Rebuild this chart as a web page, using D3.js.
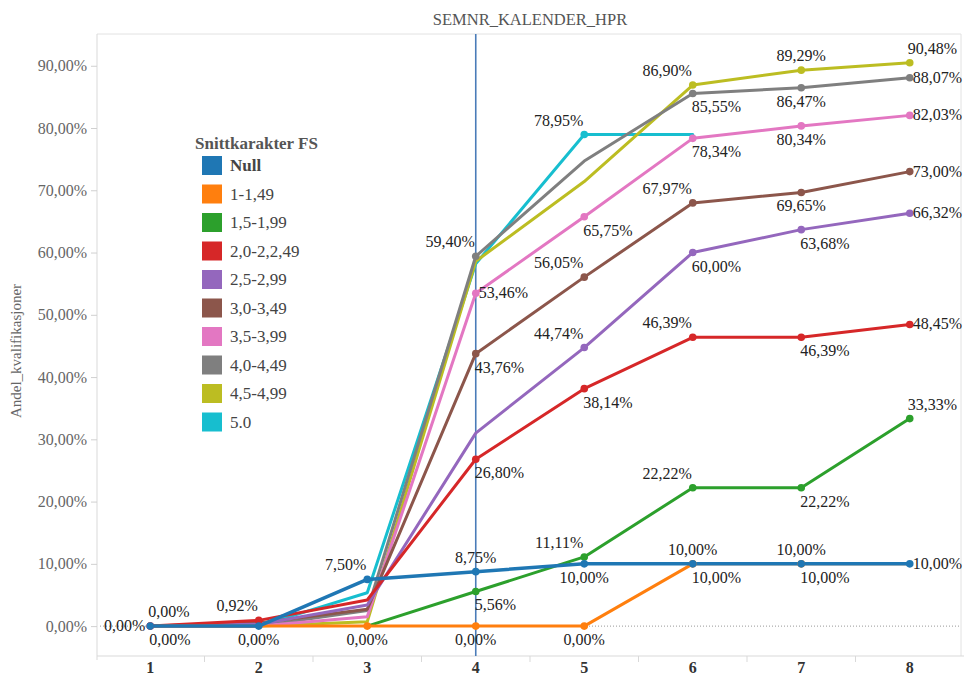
<!DOCTYPE html>
<html>
<head>
<meta charset="utf-8">
<script src="https://cdn.jsdelivr.net/npm/d3@7"></script>
<style>
  html, body { margin: 0; padding: 0; background: #fff; }
  svg { display: block; }
  svg text { font-family: "Liberation Serif", "Times New Roman", Times, "DejaVu Serif", serif !important; }
</style>
</head>
<body>
<svg id="chart" width="965" height="675"></svg>
<script>
// Semester periods on the x axis
const semesters = [1, 2, 3, 4, 5, 6, 7, 8];

// Grade groups (legend order)
const groups = ["Null", "1-1,49", "1,5-1,99", "2,0-2,2,49", "2,5-2,99",
                "3,0-3,49", "3,5-3,99", "4,0-4,49", "4,5-4,99", "5.0"];

// Share of qualifications (%) per semester, one array per grade group
const valsNull = [0, 0, 7.50, 8.75, 10.00, 10.00, 10.00, 10.00];
const vals1_0  = [0, 0, 0, 0, 0, 10.00, 10.00, 10.00];
const vals1_5  = [null, null, 0, 5.56, 11.11, 22.22, 22.22, 33.33];
const vals2_0  = [0, 0.92, 4.2, 26.80, 38.14, 46.39, 46.39, 48.45];
const vals2_5  = [0, 0.3, 3.4, 31.0, 44.74, 60.00, 63.68, 66.32];
const vals3_0  = [0, 0.5, 2.7, 43.76, 56.05, 67.97, 69.65, 73.00];
const vals3_5  = [0, 0, 1.5, 53.46, 65.75, 78.34, 80.34, 82.03];
const vals4_0  = [0, 0, 2.5, 59.40, 74.7, 85.55, 86.47, 88.07];
const vals4_5  = [0, 0, 0.7, 58.6, 71.4, 86.90, 89.29, 90.48];
const vals5_0  = [0, 0, 5.35, 58.2, 78.95, 78.95, null, null];

const seriesValues = [valsNull, vals1_0, vals1_5, vals2_0, vals2_5,
                      vals3_0, vals3_5, vals4_0, vals4_5, vals5_0];

// Y axis tick values (%)
const yTicks = [0, 10, 20, 30, 40, 50, 60, 70, 80, 90];

// Value labels: [group index, semester, placement]
const valueLabels = [
  [0, 1, "br"], [3, 1, "tr"], [6, 1, "l"],
  [3, 2, "tl"], [0, 2, "b"],
  [0, 3, "tl"], [1, 3, "b"],
  [7, 4, "tl"], [6, 4, "r"], [5, 4, "br"], [3, 4, "br"], [0, 4, "t"], [2, 4, "br"], [1, 4, "b"],
  [9, 5, "tl"], [6, 5, "br"], [5, 5, "tl"], [4, 5, "tl"], [3, 5, "br"], [2, 5, "tl"], [0, 5, "b"], [1, 5, "b"],
  [8, 6, "tl"], [7, 6, "br"], [6, 6, "br"], [5, 6, "tl"], [4, 6, "br"], [3, 6, "tl"], [2, 6, "tl"], [0, 6, "t"], [1, 6, "br"],
  [8, 7, "t"], [7, 7, "b"], [6, 7, "b"], [5, 7, "b"], [4, 7, "br"], [3, 7, "br"], [2, 7, "br"], [0, 7, "t"], [1, 7, "br"],
  [8, 8, "tr"], [7, 8, "r"], [6, 8, "r"], [5, 8, "r"], [4, 8, "r"], [3, 8, "r"], [2, 8, "tr"], [0, 8, "r"]
];

const colors = d3.schemeCategory10;
const serif = "'Liberation Serif', 'Times New Roman', Times, 'DejaVu Serif', serif";

const svg = d3.select("#chart");
const plot = { left: 97, right: 961, top: 34, bottom: 656 };

const x = d3.scaleBand().domain(semesters).range([96, 964]).paddingInner(0).paddingOuter(0);
const cx = d => x(d) + x.bandwidth() / 2;
const y = d3.scaleLinear().domain([-4.8, 95.1]).range([plot.bottom, plot.top]);

// Frame (top and right edges)
svg.append("path")
  .attr("d", `M${plot.left},${plot.top}H${plot.right}V${plot.bottom}`)
  .attr("fill", "none").attr("stroke", "#e2e2e2").attr("stroke-width", 1);

// Title
svg.append("text")
  .attr("x", 530).attr("y", 25)
  .attr("text-anchor", "middle")
  .attr("font-family", serif)
  .attr("font-size", 16.5).attr("fill", "#555")
  .text("SEMNR_KALENDER_HPR");

// Y axis
const yAxis = d3.axisLeft(y).tickValues(yTicks).tickSize(6).tickPadding(4)
  .tickFormat(d => d3.format(".2f")(d).replace(".", ",") + "%");
const gy = svg.append("g").attr("transform", `translate(${plot.left},0)`).call(yAxis);
gy.attr("font-family", serif);
gy.select(".domain").attr("stroke", "#d9d9d9").attr("d", `M0,${plot.top}V${plot.bottom + 4}`);
gy.selectAll(".tick line").attr("stroke", "#d0d0d0");
gy.selectAll(".tick text")
  .attr("font-size", 16).attr("fill", "#666");

// Y axis title
svg.append("text")
  .attr("transform", "translate(21,351) rotate(-90)")
  .attr("text-anchor", "middle")
  .attr("font-family", serif)
  .attr("font-size", 15).attr("fill", "#666")
  .text("Andel_kvalifikasjoner");

// X axis with ticks at band boundaries
const gx = svg.append("g").attr("transform", `translate(0,${plot.bottom})`);
gx.append("line").attr("x1", plot.left).attr("x2", 964)
  .attr("y1", 0).attr("y2", 0).attr("stroke", "#d9d9d9");
gx.selectAll("line.b").data(semesters.slice(1)).join("line")
  .attr("class", "b")
  .attr("x1", d => x(d)).attr("x2", d => x(d))
  .attr("y1", 0).attr("y2", 6).attr("stroke", "#d9d9d9");
gx.selectAll("text").data(semesters).join("text")
  .attr("x", d => cx(d)).attr("y", 17)
  .attr("text-anchor", "middle")
  .attr("font-family", serif)
  .attr("font-size", 16).attr("font-weight", "bold").attr("fill", "#333")
  .text(d => d);

// Zero reference line
svg.append("line")
  .attr("x1", plot.left + 3).attr("x2", plot.right)
  .attr("y1", y(0)).attr("y2", y(0))
  .attr("stroke", "#999").attr("stroke-width", 1).attr("stroke-dasharray", "1,2");

// Vertical reference line at semester 4
svg.append("line")
  .attr("x1", cx(4)).attr("x2", cx(4))
  .attr("y1", plot.top).attr("y2", plot.bottom)
  .attr("stroke", "#4a7cb8").attr("stroke-width", 1.6);

// Lines
const drawOrder = [9, 8, 7, 6, 5, 4, 3, 2, 1, 0];
const line = d3.line()
  .defined(d => d.v !== null)
  .x(d => cx(d.s))
  .y(d => y(d.v));

const gLines = svg.append("g");
drawOrder.forEach(i => {
  const pts = semesters.map((s, k) => ({ s, v: seriesValues[i][k] }));
  gLines.append("path")
    .datum(pts)
    .attr("d", line)
    .attr("fill", "none")
    .attr("stroke", colors[i])
    .attr("stroke-width", i === 0 ? 3.5 : 3)
    .attr("stroke-linejoin", "round")
    .attr("stroke-linecap", "round");
});

// Point markers at labelled values
const labelData = valueLabels.map(([g, s, pos]) => ({ g, s, pos, v: seriesValues[g][s - 1] }));
const sortedMarks = labelData.slice().sort((a, b) => drawOrder.indexOf(a.g) - drawOrder.indexOf(b.g));
svg.append("g").selectAll("circle").data(sortedMarks).join("circle")
  .attr("cx", d => cx(d.s)).attr("cy", d => y(d.v))
  .attr("r", 3.8)
  .attr("fill", d => colors[d.g]);

// Value labels
const place = {
  t:  { anchor: "middle", dx: 0,  dy: -9 },
  b:  { anchor: "middle", dx: 0,  dy: 19 },
  l:  { anchor: "end",    dx: -5, dy: 5 },
  r:  { anchor: "start",  dx: 3,  dy: 5 },
  tl: { anchor: "end",    dx: -1, dy: -9 },
  tr: { anchor: "start",  dx: -2, dy: -9 },
  br: { anchor: "start",  dx: -1, dy: 19 }
};
const fmt = v => d3.format(".2f")(v).replace(".", ",") + "%";
svg.append("g").selectAll("text").data(labelData).join("text")
  .attr("x", d => cx(d.s) + place[d.pos].dx)
  .attr("y", d => y(d.v) + place[d.pos].dy)
  .attr("text-anchor", d => place[d.pos].anchor)
  .attr("font-family", serif)
  .attr("font-size", 16).attr("fill", "#222")
  .text(d => fmt(d.v));

// Legend
const legend = svg.append("g").attr("transform", "translate(195,0)").attr("font-family", serif);
legend.append("text")
  .attr("x", 0).attr("y", 149)
  .attr("font-size", 17).attr("font-weight", "bold").attr("fill", "#555")
  .text("Snittkarakter FS");
const items = legend.selectAll("g.item").data(groups).join("g")
  .attr("class", "item")
  .attr("transform", (d, i) => `translate(7,${156 + i * 28.5})`);
items.append("rect")
  .attr("width", 20).attr("height", 19)
  .attr("fill", (d, i) => colors[i]);
items.append("text")
  .attr("x", 28).attr("y", 15)
  .attr("font-size", 17)
  .attr("font-weight", (d, i) => i === 0 ? "bold" : "normal")
  .attr("fill", "#444")
  .text(d => d);
</script>
</body>
</html>
